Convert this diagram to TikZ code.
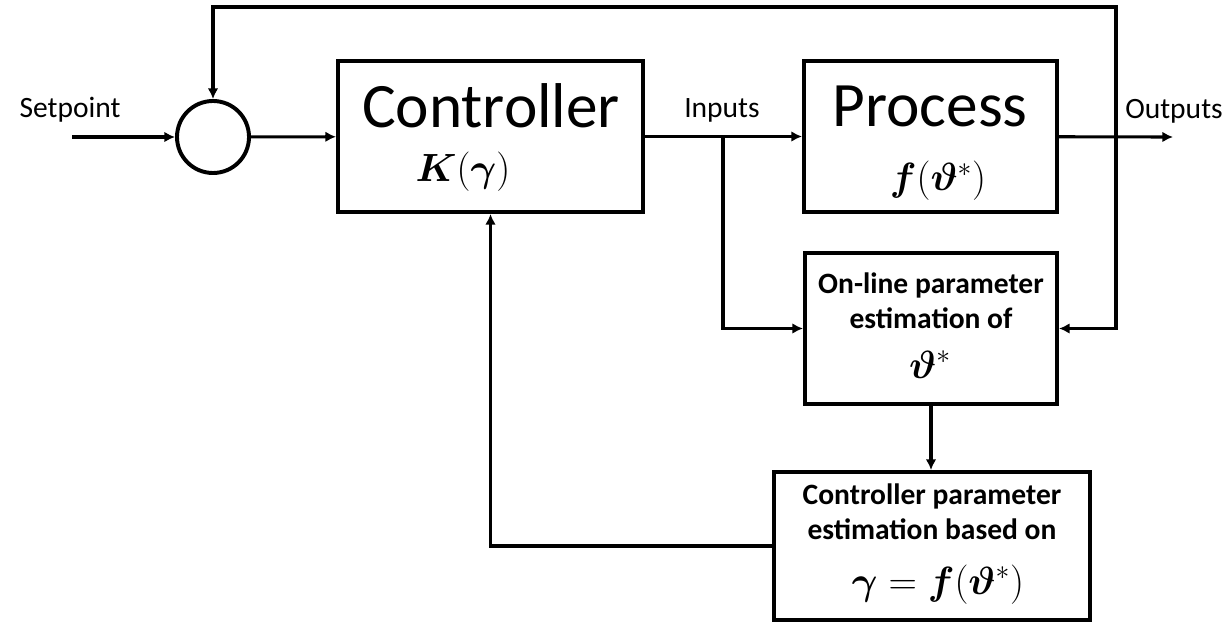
\documentclass[tikz,border=0pt]{standalone}
\usepackage{fix-cm}
\usepackage{amsmath,bm}
\usepackage[no-math]{fontspec}
\setmainfont{Carlito}
\usetikzlibrary{arrows.meta}

\begin{document}
\begin{tikzpicture}[x=0.025cm,y=-0.025cm]

\tikzset{block/.style = {shape=rectangle,draw,line width=2.8pt,inner sep=0pt}}
\tikzset{junction/.style = {shape=circle,draw,line width=2.8pt,minimum size=1.8cm,inner sep=0pt}}
\tikzset{edge/.style = {->,> = {Latex[length=7.5pt,width=7.5pt]},line width=2.2pt}}
\tikzset{bigtext/.style = {anchor=base,font=\fontsize{45}{54}\selectfont}}
\tikzset{smalltext/.style = {anchor=base,font=\fontsize{21}{25}\selectfont}}
\tikzset{boldtext/.style = {anchor=base,font=\fontsize{21}{25}\selectfont\bfseries}}
\tikzset{mathtext/.style = {anchor=base,font=\fontsize{28}{34}\selectfont}}
\useasboundingbox (0,0) rectangle (1229,623);

% blocks
\node[junction] (sum) at (213,137) {};
\node[block,minimum width=7.625cm,minimum height=3.775cm] (ctrl) at (490.5,136.5) {};
\node[block,minimum width=6.325cm,minimum height=3.775cm] (proc) at (930.5,136.5) {};
\node[block,minimum width=6.3cm,minimum height=3.775cm] (est) at (931,328.5) {};
\node[block,minimum width=7.9cm,minimum height=3.7cm] (cpe) at (932,546) {};

% texts
\node[bigtext] (ctrltxt) at (491,128) {Controller};
\node[mathtext] (ctrlmath) at (463,182) {$\bm{K}(\bm{\gamma})$};
\node[bigtext] (proctxt) at (930,127) {Process};
\node[mathtext] (procmath) at (938,191) {$\bm{f}(\bm{\vartheta}^{*})$};
\node[boldtext] (esttxta) at (931,293) {On-line parameter};
\node[boldtext] (esttxtb) at (931,328) {estimation of};
\node[mathtext] (estmath) at (930,378) {$\bm{\vartheta}^{*}$};
\node[boldtext] (cpetxta) at (932,504) {Controller parameter};
\node[boldtext] (cpetxtb) at (932,539) {estimation based on};
\node[mathtext] (cpemath) at (938,594) {$\bm{\gamma}=\bm{f}(\bm{\vartheta}^{*})$};
\node[smalltext] (setlbl) at (70,118) {Setpoint};
\node[smalltext] (inlbl) at (722,118) {Inputs};
\node[smalltext] (outlbl) at (1174,119) {Outputs};

% free ends and corners
\coordinate (sp) at (72,137);
\coordinate (out) at (1173,137);
\coordinate (br) at (723,137);
\coordinate (fb) at (1116,137);
\coordinate (tr) at (1116,7);

% connectors
\draw[edge] (sp) -- (sum);
\draw[edge] (sum) -- (ctrl);
\draw[edge] (ctrl) -- (proc);
\draw[edge] (proc) -- (out);
\draw[edge] (br) |- (est);
\draw[edge] (fb) -- (tr) -| (sum);
\draw[edge] (fb) |- (est);
\draw[edge] (est) -- (est.south |- cpe.north);
\draw[edge] (cpe) -| (ctrl);
\end{tikzpicture}
\end{document}
